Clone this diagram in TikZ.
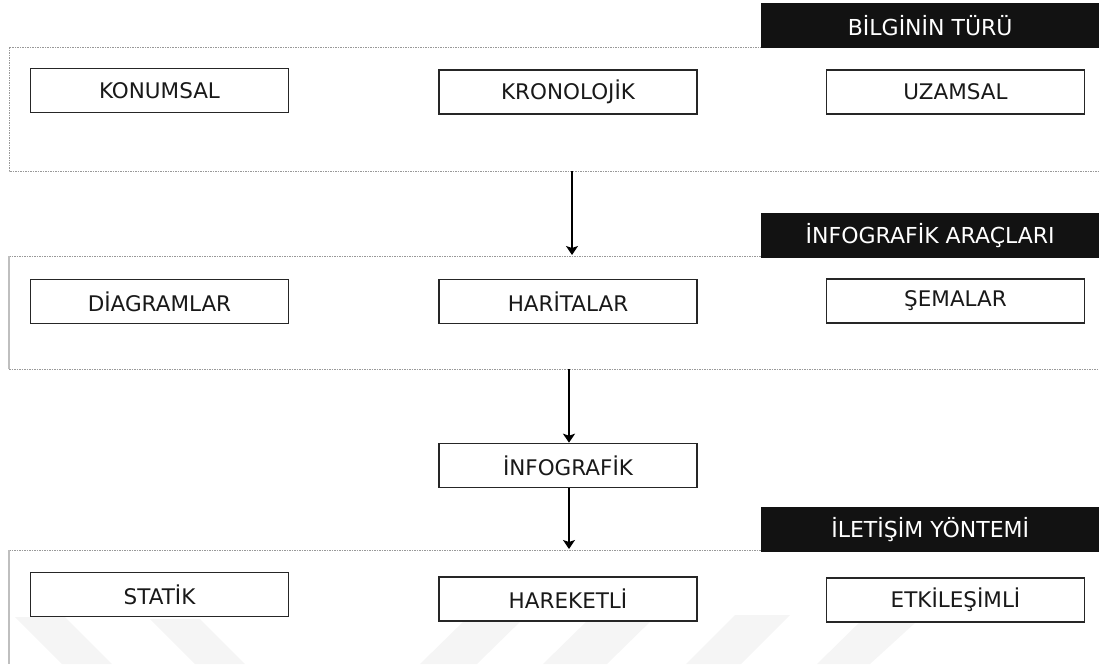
\documentclass[tikz,border=0pt]{standalone}
\usepackage{fontspec}
\setmainfont{DejaVu Sans}
\usetikzlibrary{arrows.meta}
\begin{document}
\begin{tikzpicture}[x=1pt,y=-1pt,
  itembox/.style={draw=black!85,line width=1.6pt,fill=white,minimum width=258pt,minimum height=44pt,inner sep=0pt,font=\fontsize{21.5}{25}\selectfont,text=black!90},
  headbox/.style={fill=black!93,text=white,minimum width=338pt,minimum height=45pt,inner sep=0pt,font=\fontsize{22}{26}\selectfont,anchor=north west},
  frameline/.style={draw=black!40,line width=0.7pt,dash pattern=on 1.5pt off 1pt},
  sideline/.style={draw=black!25,line width=1.6pt},
  flow/.style={draw=black,line width=1.5pt,-{Stealth[length=9pt,width=12pt,inset=2pt]}},
  wm/.style={fill=black!4,draw=none}]
\useasboundingbox (0,0) rectangle (1099,664);
% faint watermark
\fill[wm] (15,617) -- (65,617) -- (112,664) -- (62,664) -- cycle;
\fill[wm] (150,619) -- (200,619) -- (245,664) -- (195,664) -- cycle;
\fill[wm] (470,615) -- (527,615) -- (477,664) -- (420,664) -- cycle;
\fill[wm] (593,615) -- (657,615) -- (607,664) -- (543,664) -- cycle;
\fill[wm] (735,615) -- (790,615) -- (741,664) -- (686,664) -- cycle;
\fill[wm] (870,612) -- (927,612) -- (870,664) -- (817,664) -- cycle;
% group 1 frame
\draw[frameline] (1099,47) -- (9,47) -- (9,171) -- (1099,171);
% group 2 frame
\draw[frameline] (9,256) -- (1099,256);
\draw[frameline] (9,369) -- (1099,369);
\draw[sideline] (9,256) -- (9,369);
% group 3 frame
\draw[frameline] (9,550) -- (1099,550);
\draw[sideline] (9,550) -- (9,664);
% headers
\node[headbox] (h1) at (761,3) {BİLGİNİN TÜRÜ};
\node[headbox] (h2) at (761,213) {İNFOGRAFİK ARAÇLARI};
\node[headbox] (h3) at (761,507) {İLETİŞİM YÖNTEMİ};
% row 1
\node[itembox] (konumsal) at (159.5,90.5) {KONUMSAL};
\node[itembox] (kronolojik) at (568,92) {KRONOLOJİK};
\node[itembox] (uzamsal) at (955.5,92) {UZAMSAL};
% row 2
\node[itembox] (diagramlar) at (159.5,301.5) {DİAGRAMLAR};
\node[itembox] (haritalar) at (568,301.5) {HARİTALAR};
\node[itembox] (semalar) at (955.5,301) {ŞEMALAR};
% center
\node[itembox] (infografik) at (568,465.5) {İNFOGRAFİK};
% row 3
\node[itembox] (statik) at (159.5,594.5) {STATİK};
\node[itembox] (hareketli) at (568,599) {HAREKETLİ};
\node[itembox] (etkilesimli) at (955.5,600) {ETKİLEŞİMLİ};
% connector points on frames
\coordinate (g1b) at (572,171);
\coordinate (g2t) at (572,255);
\coordinate (g2b) at (569,369);
\coordinate (g3t) at (569,549);
\draw[flow] (g1b) -- (g2t);
\draw[flow] (g2b) -- (infografik.north -| g2b);
\draw[flow] (infografik.south -| g3t) -- (g3t);
\end{tikzpicture}
\end{document}
